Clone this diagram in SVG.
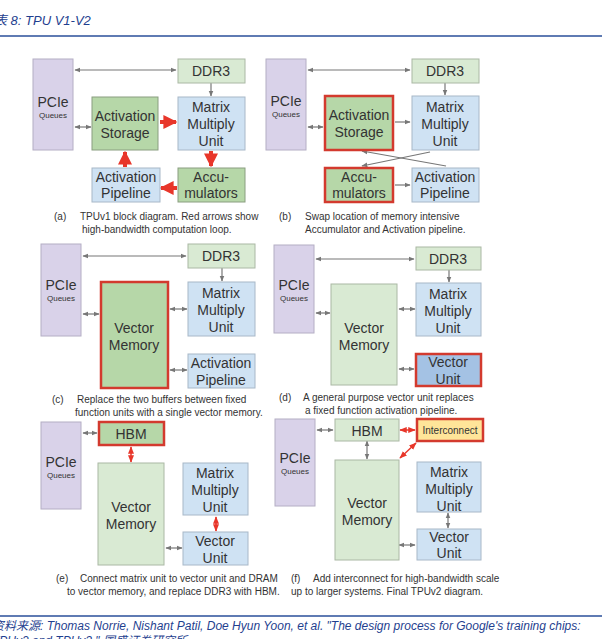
<svg xmlns="http://www.w3.org/2000/svg" width="602" height="639" viewBox="0 0 602 639">
<defs>
<marker id="ga" viewBox="0 0 10 10" refX="9" refY="5" markerWidth="5" markerHeight="5" orient="auto-start-reverse"><path d="M0,1L10,5L0,9z" fill="#777"/></marker>
<marker id="ra" viewBox="0 0 10 10" refX="9" refY="5" markerWidth="5" markerHeight="5" orient="auto-start-reverse"><path d="M0,1L10,5L0,9z" fill="#e8362a"/></marker>
<marker id="rb" viewBox="0 0 10 10" refX="9" refY="5" markerWidth="3.5" markerHeight="3.5" orient="auto"><path d="M0,0L10,5L0,10z" fill="#e8362a"/></marker>
</defs>
<style>
text{font-family:"Liberation Sans",Arial,sans-serif;fill:#333}
.p{fill:#d9d2e9;stroke:#b4aec4;stroke-width:1}
.lg{fill:#d9ead3;stroke:#aab8a4;stroke-width:1}
.g{fill:#b6d7a8;stroke:#8a9e80;stroke-width:1}
.b{fill:#cfe2f3;stroke:#a8b8c8;stroke-width:1}
.r{stroke:#d33a2e;stroke-width:2.5}
.t{font-size:14px;text-anchor:middle}
.q{font-size:8px;text-anchor:middle}
.c{font-size:10px}
.gl{stroke:#777;stroke-width:1.2;fill:none;marker-start:url(#ga);marker-end:url(#ga)}
.g1{stroke:#777;stroke-width:1.2;fill:none;marker-end:url(#ga)}
.rl{stroke:#e8362a;stroke-width:1.5;fill:none;marker-start:url(#ra);marker-end:url(#ra)}
.rt{stroke:#e8362a;stroke-width:4;fill:none;marker-end:url(#rb)}
.hd{font-family:"Liberation Sans","Noto Sans CJK SC",sans-serif;font-style:italic;fill:#1f3f8f}
</style>
<text class="hd" x="-6" y="25" font-size="13">表 8:  TPU V1-V2</text>
<line x1="0" y1="36" x2="602" y2="36" stroke="#2a4f9a" stroke-width="1.5"/>

<g id="connectors">
<line class="gl" x1="75" y1="70" x2="176" y2="70"/>
<line class="g1" x1="211" y1="83" x2="211" y2="96"/>
<line class="gl" x1="75" y1="127" x2="91" y2="127"/>
<line class="rt" x1="160" y1="122" x2="176" y2="122"/>
<line class="rt" x1="211" y1="151" x2="211" y2="166"/>
<line class="rt" x1="177" y1="188" x2="161" y2="188"/>
<line class="rt" x1="125" y1="167" x2="125" y2="152"/>

<line class="gl" x1="308" y1="70" x2="410" y2="70"/>
<line class="g1" x1="445" y1="83" x2="445" y2="95"/>
<line class="gl" x1="308" y1="127" x2="323" y2="127"/>
<line class="g1" x1="395" y1="122" x2="410" y2="122"/>
<line class="g1" x1="395" y1="185" x2="410" y2="185"/>
<line class="g1" x1="446" y1="166" x2="362" y2="151"/>
<line class="g1" x1="430" y1="152" x2="362" y2="166"/>

<line class="gl" x1="83" y1="256" x2="186" y2="256"/>
<line class="g1" x1="222" y1="268" x2="222" y2="281"/>
<line class="gl" x1="83" y1="314" x2="99" y2="314"/>
<line class="gl" x1="170" y1="309" x2="187" y2="309"/>
<line class="gl" x1="170" y1="370" x2="187" y2="370"/>

<line class="gl" x1="316" y1="259" x2="414" y2="259"/>
<line class="g1" x1="449" y1="270" x2="449" y2="282"/>
<line class="gl" x1="316" y1="313" x2="330" y2="313"/>
<line class="gl" x1="399" y1="309" x2="415" y2="309"/>
<line class="gl" x1="399" y1="369" x2="414" y2="369"/>

<line class="gl" x1="83" y1="433" x2="97" y2="433"/>
<line class="rl" x1="131" y1="447" x2="131" y2="462"/>
<line class="rl" x1="216" y1="517" x2="216" y2="531"/>
<line class="gl" x1="166" y1="548" x2="182" y2="548"/>

<line class="gl" x1="317" y1="430" x2="333" y2="430"/>
<line class="rl" x1="400" y1="430" x2="415" y2="430"/>
<line class="gl" x1="367" y1="441" x2="367" y2="459"/>
<line class="rl" x1="416" y1="443" x2="400" y2="458"/>
<line class="gl" x1="448" y1="513" x2="448" y2="528"/>
<line class="gl" x1="399" y1="545" x2="415" y2="545"/>
</g>

<g id="a-pcie"><rect class="p" x="33" y="59" width="40" height="91"/><text class="t" x="53" y="107">PCIe</text><text class="q" x="53" y="118">Queues</text></g>
<g id="a-ddr3"><rect class="lg" x="178" y="59" width="67" height="24"/><text class="t" x="211" y="76">DDR3</text></g>
<g id="a-as"><rect class="g" x="92" y="97" width="66" height="53"/><text class="t" x="125" y="121">Activation</text><text class="t" x="125" y="138">Storage</text></g>
<g id="a-mmu"><rect class="b" x="178" y="97" width="67" height="53"/><text class="t" x="211" y="112">Matrix</text><text class="t" x="211" y="129">Multiply</text><text class="t" x="211" y="146">Unit</text></g>
<g id="a-ap"><rect class="b" x="92" y="168" width="68" height="34"/><text class="t" x="126" y="182">Activation</text><text class="t" x="126" y="198">Pipeline</text></g>
<g id="a-acc"><rect class="g" x="178" y="168" width="67" height="34"/><text class="t" x="211" y="182">Accu-</text><text class="t" x="211" y="198">mulators</text></g>
<text class="c" x="54" y="220">(a)</text><text class="c" x="80" y="220">TPUv1 block diagram. Red arrows show</text><text class="c" x="82" y="233">high-bandwidth computation loop.</text>

<g id="b-pcie"><rect class="p" x="266" y="59" width="40" height="91"/><text class="t" x="286" y="106">PCIe</text><text class="q" x="286" y="117">Queues</text></g>
<g id="b-ddr3"><rect class="lg" x="412" y="59" width="67" height="24"/><text class="t" x="445" y="76">DDR3</text></g>
<g id="b-as"><rect class="g r" x="325" y="96" width="68" height="54"/><text class="t" x="359" y="120">Activation</text><text class="t" x="359" y="137">Storage</text></g>
<g id="b-mmu"><rect class="b" x="412" y="96" width="67" height="54"/><text class="t" x="445" y="112">Matrix</text><text class="t" x="445" y="129">Multiply</text><text class="t" x="445" y="146">Unit</text></g>
<g id="b-acc"><rect class="g r" x="325" y="168" width="68" height="34"/><text class="t" x="359" y="182">Accu-</text><text class="t" x="359" y="198">mulators</text></g>
<g id="b-ap"><rect class="b" x="412" y="168" width="67" height="34"/><text class="t" x="445" y="182">Activation</text><text class="t" x="445" y="198">Pipeline</text></g>
<text class="c" x="279" y="220">(b)</text><text class="c" x="305" y="220">Swap location of memory intensive</text><text class="c" x="305" y="233">Accumulator and Activation pipeline.</text>

<g id="c-pcie"><rect class="p" x="41" y="244" width="40" height="92"/><text class="t" x="61" y="290">PCIe</text><text class="q" x="61" y="301">Queues</text></g>
<g id="c-ddr3"><rect class="lg" x="188" y="244" width="67" height="24"/><text class="t" x="221" y="261">DDR3</text></g>
<g id="c-vm"><rect class="g r" x="101" y="282" width="67" height="106"/><text class="t" x="134" y="333">Vector</text><text class="t" x="134" y="350">Memory</text></g>
<g id="c-mmu"><rect class="b" x="188" y="282" width="67" height="54"/><text class="t" x="221" y="298">Matrix</text><text class="t" x="221" y="315">Multiply</text><text class="t" x="221" y="332">Unit</text></g>
<g id="c-ap"><rect class="b" x="188" y="354" width="67" height="34"/><text class="t" x="221" y="368">Activation</text><text class="t" x="221" y="385">Pipeline</text></g>
<text class="c" x="52" y="403">(c)</text><text class="c" x="77" y="403">Replace the two buffers between fixed</text><text class="c" x="75" y="416">function units with a single vector memory.</text>

<g id="d-pcie"><rect class="p" x="274" y="245" width="40" height="88"/><text class="t" x="294" y="290">PCIe</text><text class="q" x="294" y="301">Queues</text></g>
<g id="d-ddr3"><rect class="lg" x="416" y="247" width="65" height="23"/><text class="t" x="448" y="264">DDR3</text></g>
<g id="d-vm"><rect class="lg" x="331" y="284" width="66" height="101"/><text class="t" x="364" y="333">Vector</text><text class="t" x="364" y="350">Memory</text></g>
<g id="d-mmu"><rect class="b" x="416" y="283" width="65" height="53"/><text class="t" x="448" y="299">Matrix</text><text class="t" x="448" y="316">Multiply</text><text class="t" x="448" y="333">Unit</text></g>
<g id="d-vu"><rect class="r" fill="#a4c2e4" x="416" y="354" width="65" height="32"/><text class="t" x="448" y="367">Vector</text><text class="t" x="448" y="384">Unit</text></g>
<text class="c" x="279" y="401">(d)</text><text class="c" x="303" y="401">A general purpose vector unit replaces</text><text class="c" x="305" y="414">a fixed function activation pipeline.</text>

<g id="e-pcie"><rect class="p" x="41" y="422" width="40" height="87"/><text class="t" x="61" y="467">PCIe</text><text class="q" x="61" y="478">Queues</text></g>
<g id="e-hbm"><rect class="g r" x="99" y="422" width="65" height="23"/><text class="t" x="131" y="439">HBM</text></g>
<g id="e-vm"><rect class="lg" x="98" y="463" width="66" height="102"/><text class="t" x="131" y="512">Vector</text><text class="t" x="131" y="529">Memory</text></g>
<g id="e-mmu"><rect class="b" x="183" y="463" width="65" height="52"/><text class="t" x="215" y="478">Matrix</text><text class="t" x="215" y="495">Multiply</text><text class="t" x="215" y="512">Unit</text></g>
<g id="e-vu"><rect class="b" x="183" y="532" width="65" height="33"/><text class="t" x="215" y="546">Vector</text><text class="t" x="215" y="563">Unit</text></g>
<text class="c" x="56" y="582">(e)</text><text class="c" x="80" y="582">Connect matrix unit to vector unit and DRAM</text><text class="c" x="67" y="595">to vector memory, and replace DDR3 with HBM.</text>

<g id="f-pcie"><rect class="p" x="275" y="419" width="40" height="87"/><text class="t" x="295" y="463">PCIe</text><text class="q" x="295" y="474">Queues</text></g>
<g id="f-hbm"><rect class="lg" x="335" y="419" width="64" height="22"/><text class="t" x="367" y="436">HBM</text></g>
<g id="f-ic"><rect class="r" fill="#ffe599" x="417" y="419" width="66" height="22"/><text x="450" y="434" font-size="10" text-anchor="middle">Interconnect</text></g>
<g id="f-vm"><rect class="lg" x="335" y="460" width="64" height="100"/><text class="t" x="367" y="508">Vector</text><text class="t" x="367" y="525">Memory</text></g>
<g id="f-mmu"><rect class="b" x="417" y="462" width="64" height="50"/><text class="t" x="449" y="477">Matrix</text><text class="t" x="449" y="494">Multiply</text><text class="t" x="449" y="511">Unit</text></g>
<g id="f-vu"><rect class="b" x="417" y="529" width="64" height="31"/><text class="t" x="449" y="542">Vector</text><text class="t" x="449" y="558">Unit</text></g>
<text class="c" x="291" y="582">(f)</text><text class="c" x="313" y="582">Add interconnect for high-bandwidth scale</text><text class="c" x="291" y="595">up to larger systems. Final TPUv2 diagram.</text>

<line x1="0" y1="616" x2="602" y2="616" stroke="#2a4f9a" stroke-width="1.5"/>
<text class="hd" x="-8" y="630" font-size="12">资料来源:  Thomas Norrie, Nishant Patil, Doe Hyun Yoon, et al. "The design process for Google's training chips:</text>
<text class="hd" x="-8" y="645" font-size="12">TPUv2 and TPUv3." 国盛证券研究所</text>
</svg>
